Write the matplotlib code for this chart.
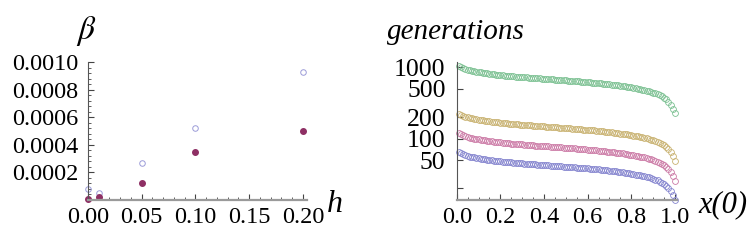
import numpy as np
import matplotlib
matplotlib.use('Agg')
import matplotlib.pyplot as plt
from matplotlib.ticker import MultipleLocator, FixedLocator, NullLocator, FixedFormatter

plt.rcParams['font.family'] = ['Liberation Serif', 'DejaVu Serif']
plt.rcParams['mathtext.fontset'] = 'stix'

# left panel: beta vs h
h = [0.0, 0.01, 0.05, 0.1, 0.2]
beta_open = [0.00008, 0.00005, 0.000267, 0.000525, 0.00093]
beta_filled = [0.000007, 0.000024, 0.000125, 0.000345, 0.000497]

# right panel: generations vs x(0), one series per h
x0 = np.round(np.arange(1, 101) / 100, 2)

gen_h001 = [1040, 1000, 968, 942, 921, 904, 889, 876, 864, 853,
            843, 833, 824, 816, 808, 800, 793, 786, 780, 774,
            768, 762, 757, 752, 747, 742, 737, 733, 729, 725,
            721, 717, 713, 709, 705, 701, 697, 694, 690, 686,
            683, 679, 676, 672, 669, 665, 662, 658, 655, 651,
            648, 644, 641, 637, 633, 630, 626, 622, 619, 615,
            611, 607, 603, 599, 595, 591, 586, 582, 577, 573,
            568, 563, 558, 553, 547, 542, 536, 530, 524, 518,
            512, 505, 498, 491, 484, 476, 468, 459, 450, 440,
            429, 417, 404, 389, 372, 352, 328, 298, 262, 225]

gen_h005 = [223.6, 215.0, 208.1, 202.5, 198.0, 194.4, 191.1, 188.3, 185.8, 183.4,
            181.2, 179.1, 177.2, 175.4, 173.7, 172.0, 170.5, 169.0, 167.7, 166.4,
            165.1, 163.8, 162.8, 161.7, 160.6, 159.5, 158.5, 157.6, 156.7, 155.9,
            155.0, 154.2, 153.3, 152.4, 151.6, 150.7, 149.9, 149.2, 148.4, 147.5,
            146.8, 146.0, 145.3, 144.5, 143.8, 143.0, 142.3, 141.5, 140.8, 140.0,
            139.3, 138.5, 137.8, 137.0, 136.1, 135.5, 134.6, 133.7, 133.1, 132.2,
            131.4, 130.5, 129.6, 128.8, 127.9, 127.1, 126.0, 125.1, 124.1, 123.2,
            122.1, 121.0, 120.0, 118.9, 117.6, 116.5, 115.2, 114.0, 112.7, 111.4,
            110.1, 108.6, 107.1, 105.6, 104.1, 102.3, 100.6, 98.7, 96.8, 94.6,
            92.2, 89.7, 86.9, 83.6, 80.0, 75.7, 70.5, 64.1, 56.3, 48.4]

gen_h01 = [118.6, 114.0, 110.4, 107.4, 105.0, 103.1, 101.3, 99.9, 98.5, 97.2,
           96.1, 95.0, 93.9, 93.0, 92.1, 91.2, 90.4, 89.6, 88.9, 88.2,
           87.6, 86.9, 86.3, 85.7, 85.2, 84.6, 84.0, 83.6, 83.1, 82.7,
           82.2, 81.7, 81.3, 80.8, 80.4, 79.9, 79.5, 79.1, 78.7, 78.2,
           77.9, 77.4, 77.1, 76.6, 76.3, 75.8, 75.5, 75.0, 74.7, 74.2,
           73.9, 73.4, 73.1, 72.6, 72.2, 71.8, 71.4, 70.9, 70.6, 70.1,
           69.7, 69.2, 68.7, 68.3, 67.8, 67.4, 66.8, 66.3, 65.8, 65.3,
           64.8, 64.2, 63.6, 63.0, 62.4, 61.8, 61.1, 60.4, 59.7, 59.1,
           58.4, 57.6, 56.8, 56.0, 55.2, 54.3, 53.4, 52.3, 51.3, 50.2,
           48.9, 47.5, 46.1, 44.3, 42.4, 40.1, 37.4, 34.0, 29.9, 25.7]

gen_h02 = [64.5, 62.0, 60.0, 58.4, 57.1, 56.0, 55.1, 54.3, 53.6, 52.9,
           52.3, 51.6, 51.1, 50.6, 50.1, 49.6, 49.2, 48.7, 48.4, 48.0,
           47.6, 47.2, 46.9, 46.6, 46.3, 46.0, 45.7, 45.4, 45.2, 45.0,
           44.7, 44.5, 44.2, 44.0, 43.7, 43.5, 43.2, 43.0, 42.8, 42.5,
           42.3, 42.1, 41.9, 41.7, 41.5, 41.2, 41.0, 40.8, 40.6, 40.4,
           40.2, 39.9, 39.7, 39.5, 39.2, 39.1, 38.8, 38.6, 38.4, 38.1,
           37.9, 37.6, 37.4, 37.1, 36.9, 36.6, 36.3, 36.1, 35.8, 35.5,
           35.2, 34.9, 34.6, 34.3, 33.9, 33.6, 33.2, 32.9, 32.5, 32.1,
           31.7, 31.3, 30.9, 30.4, 30.0, 29.5, 29.0, 28.5, 27.9, 27.3,
           26.6, 25.9, 25.0, 24.1, 23.1, 21.8, 20.3, 18.5, 16.2, 14.0]

series = [gen_h001, gen_h005, gen_h01, gen_h02]
colors = ['#7cc192', '#c9b271', '#cc7aa6', '#8585cf']

ytick_vals = [20, 50, 100, 200, 500, 1000]
ytick_labels = ['', '50', '100', '200', '500', '1000']


def style_axes(ax, size):
    for s in ['top', 'right']:
        ax.spines[s].set_visible(False)
    ax.spines['left'].set_color('#555555')
    ax.spines['left'].set_linewidth(0.8)
    ax.spines['bottom'].set_color('#9a9a9a')
    ax.spines['bottom'].set_linewidth(1.6)
    ax.tick_params(direction='in', length=4, width=0.8, color='#444444',
                   labelsize=size, pad=5)
    ax.tick_params(which='minor', direction='in', length=2, width=0.6, color='#444444')


fig = plt.figure(figsize=(7.47, 2.45), dpi=100)

ax1 = fig.add_axes([0.1178, 0.1837, 0.293, 0.563])
ax1.plot(h, beta_open, 'o', ms=4, mfc='none', mec='#9c9cd8', mew=0.7, clip_on=False)
ax1.plot(h, beta_filled, 'o', ms=4, color='#8e2f64', clip_on=False)
ax1.set_xlim(0, 0.2037)
ax1.set_ylim(0, 0.001)
ax1.xaxis.set_major_locator(FixedLocator([0.0, 0.05, 0.1, 0.15, 0.2]))
ax1.xaxis.set_minor_locator(MultipleLocator(0.01))
ax1.set_xticklabels(['0.00', '0.05', '0.10', '0.15', '0.20'])
ax1.yaxis.set_major_locator(FixedLocator([0.0002, 0.0004, 0.0006, 0.0008, 0.001]))
ax1.yaxis.set_minor_locator(MultipleLocator(0.00004))
ax1.set_yticklabels(['0.0002', '0.0004', '0.0006', '0.0008', '0.0010'])
style_axes(ax1, 17.5)
ax1.tick_params(axis='y', pad=7)

ax2 = fig.add_axes([0.6114, 0.1837, 0.2945, 0.5645])
for vals, c in zip(series, colors):
    ax2.plot(x0, vals, 'o', ms=4.2, mfc='none', mec=c, mew=0.6, clip_on=False)
ax2.set_yscale('log')
ax2.set_xlim(0, 1.008)
ax2.set_ylim(13.8, 1190)
ax2.xaxis.set_major_locator(MultipleLocator(0.2))
ax2.xaxis.set_minor_locator(MultipleLocator(0.05))
ax2.xaxis.set_major_formatter(plt.FormatStrFormatter('%.1f'))
ax2.yaxis.set_major_locator(FixedLocator(ytick_vals))
ax2.yaxis.set_major_formatter(FixedFormatter(ytick_labels))
ax2.yaxis.set_minor_locator(NullLocator())
style_axes(ax2, 17.5)
ax2.tick_params(axis='y', labelsize=18.5, pad=8)

fig.text(0.116, 0.875, r'$\beta$', fontsize=24, ha='center', va='center')
fig.text(0.448, 0.165, 'h', fontsize=23, style='italic', ha='center', va='center')
fig.text(0.518, 0.87, 'generations', fontsize=21, style='italic', ha='left', va='center')
fig.text(0.968, 0.165, 'x(0)', fontsize=22, style='italic', ha='center', va='center')

fig.savefig('out.png', dpi=100)
